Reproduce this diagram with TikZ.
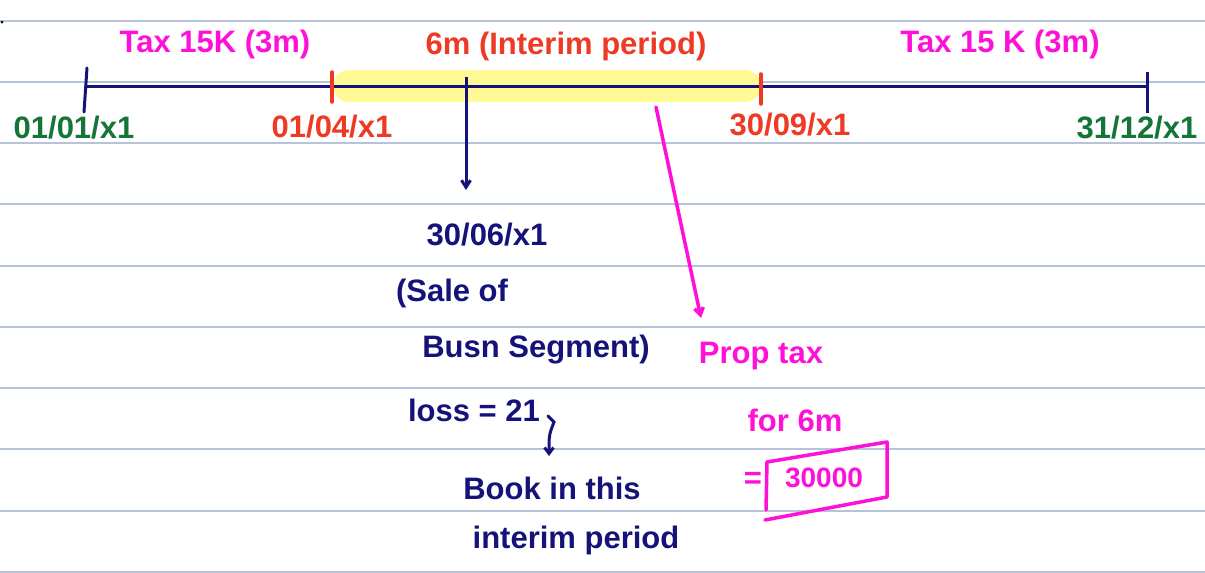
\documentclass[tikz,border=0pt]{standalone}
\usepackage{fontspec}
\setmainfont{Liberation Sans}
\usetikzlibrary{arrows.meta}
\definecolor{navy}{HTML}{15137A}
\definecolor{penred}{HTML}{EE3A24}
\definecolor{penmag}{HTML}{FF10D8}
\definecolor{pengreen}{HTML}{137537}
\definecolor{hilite}{HTML}{FFFA96}
\definecolor{rule}{HTML}{B7C3D9}
\tikzset{
  txt/.style={font=\fontsize{31}{36}\selectfont\bfseries, inner sep=0pt, anchor=center},
  navytxt/.style={txt, text=navy},
  redtxt/.style={txt, text=penred},
  magtxt/.style={txt, text=penmag},
  greentxt/.style={txt, text=pengreen},
  ruleline/.style={draw=rule, line width=1.2pt},
  navyline/.style={draw=navy, line width=3pt},
  redtick/.style={draw=penred, line width=3.5pt, line cap=round},
  magline/.style={draw=penmag, line width=3.5pt, line cap=round, line join=round},
}
\begin{document}
\begin{tikzpicture}[x=1pt,y=-1pt]
\useasboundingbox (0,0) rectangle (1205,573);
\fill[white] (0,0) rectangle (1205,573);
% ruled paper
\foreach \yy in {21,82,143,204,266,327,388,449,511,572}
  \draw[ruleline] (0,\yy) -- (1205,\yy);
\fill[black] (2,22) circle (1.5pt);
% highlight
\draw[hilite, line width=32pt, line cap=round] (349,86) -- (745,86);
% timeline
\coordinate (tl) at (86,86);
\coordinate (tr) at (1147,86);
\draw[navyline] (tl) -- (tr);
\draw[navyline, line cap=round] (87,68) -- (84,112);
\draw[navyline] (1147,72) -- (1147,113);
\draw[redtick] (332,72) -- (332,102);
\draw[redtick] (761,74) -- (761,104);
% top labels
\node[magtxt] (taxl) at (215,44) {Tax 15K (3m)};
\node[redtxt] (interim) at (566,46) {6m (Interim period)};
\node[magtxt] (taxr) at (1000,44) {Tax 15 K (3m)};
% dates
\node[greentxt] (d0101) at (74,128) {01/01/x1};
\node[redtxt] (d0104) at (332,127) {01/04/x1};
\node[redtxt] (d3009) at (790,125) {30/09/x1};
\node[greentxt] (d3112) at (1137,128) {31/12/x1};
% sale event
\coordinate (sale) at (466,77);
\coordinate (saleend) at (466,190);
\draw[navyline, -{Straight Barb[length=7pt,width=9pt]}] (sale) -- (saleend);
\node[navytxt] (d3006) at (487,235) {30/06/x1};
\node[navytxt] (saleof) at (452,293) {(Sale of};
\node[navytxt] (busn) at (536,350) {Busn Segment)};
\node[navytxt] (loss) at (474,410) {loss = 21};
\coordinate (hk1) at (548,416);
\coordinate (hk2) at (549,456);
\draw[navyline, line cap=round, -{Straight Barb[length=6pt,width=9pt]}] (hk1) -- (554,422) .. controls (549,435) .. (hk2);
\node[navytxt] (book) at (552,488) {Book in this};
\node[navytxt] (period) at (576,540) {interim period};
% proportional tax
\coordinate (pstart) at (656,107);
\coordinate (pend) at (701,318);
\draw[magline, -{Straight Barb[length=7pt,width=9pt]}] (pstart) -- (pend);
\node[magtxt] (prop) at (761,356) {Prop tax};
\node[magtxt] (for6) at (795,420) {for 6m};
\node[magtxt] (eq) at (753,480) {=};
\node[magtxt, font=\fontsize{28}{34}\selectfont\bfseries] (amt) at (824,478) {30000};
\draw[magline] (767,462) -- (887,442) -- (887,497) -- (765,520);
\draw[magline] (767,462) -- (766,510);
\end{tikzpicture}
\end{document}
